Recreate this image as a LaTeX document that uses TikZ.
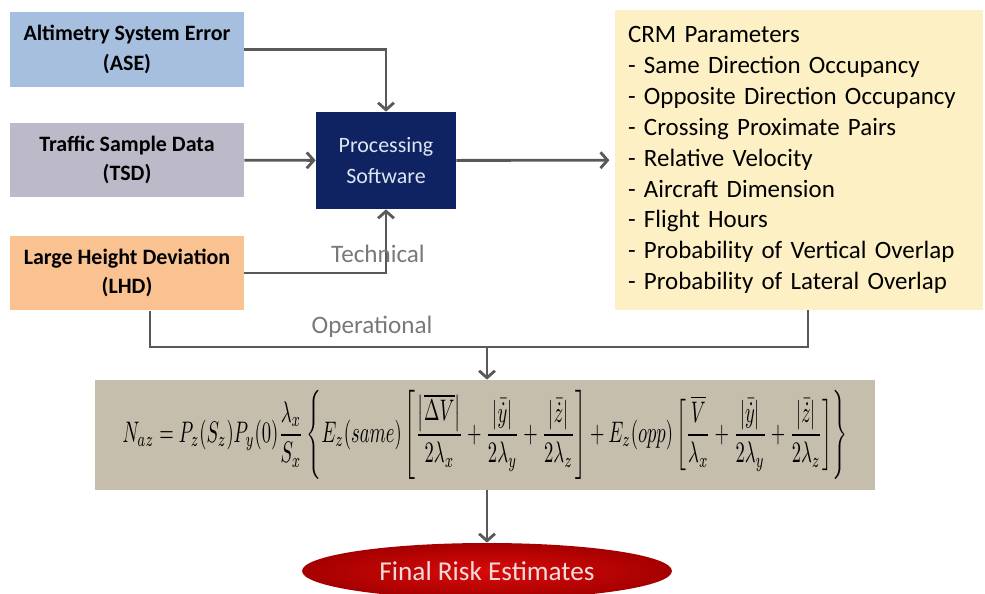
\documentclass[tikz,border=0pt]{standalone}
\usepackage{amsmath, amssymb}
\usepackage{fontspec}
\setmainfont{Carlito}
\usetikzlibrary{shapes.geometric,arrows.meta,positioning}
\usepackage{xcolor}
\definecolor{asecol}{RGB}{167,191,222}
\definecolor{tsdcol}{RGB}{188,186,201}
\definecolor{lhdcol}{RGB}{250,193,145}
\definecolor{proccol}{RGB}{15,34,98}
\definecolor{proctext}{RGB}{220,230,242}
\definecolor{crmcol}{RGB}{252,240,196}
\definecolor{eqcol}{RGB}{197,190,172}
\definecolor{arrowgray}{RGB}{89,89,89}
\definecolor{labelgray}{RGB}{120,120,120}
\definecolor{riskin}{RGB}{218,10,10}
\definecolor{riskout}{RGB}{165,0,0}
\definecolor{risktext}{RGB}{242,220,219}

\begin{document}
\begin{tikzpicture} [
      x = 0.02cm, y = -0.02cm,
      inner sep = 0,
      src/.style = { font = \fontsize{12.5}{17}\selectfont\bfseries, align = center, minimum width = 4.68cm, minimum height = 1.5cm },
      link/.style = { draw = arrowgray, line width = 1.6pt },
      flow/.style = { link, -{Straight Barb[length=4pt, width=9pt]} },
      lbl/.style = { text = labelgray, font = \fontsize{14.3}{16}\selectfont }
      ]
    
      \useasboundingbox (0,0) rectangle (985,594);
    
      \node [src, fill=asecol] (ase) at (127,49.5) {Altimetry System Error\\(ASE)};
      \node [src, fill=tsdcol] (tsd) at (127,160) {Traffic Sample Data\\(TSD)};
      \node [src, fill=lhdcol] (lhd) at (127,273) {Large Height Deviation\\(LHD)};
    
      \node [fill=proccol, text=proctext, align=center, font=\fontsize{12.5}{17.6}\selectfont,
             minimum width=2.8cm, minimum height=1.94cm] (proc) at (386,160.5) {Processing\\Software};
    
      \node [fill=crmcol, align=left, font=\fontsize{14.2}{17.6}\selectfont, text width=6.84cm,
             inner xsep=0.26cm, minimum height=6cm] (crm) at (799,160)
        {CRM Parameters\\- Same Direction Occupancy\\- Opposite Direction Occupancy\\- Crossing Proximate Pairs\\- Relative Velocity\\- Aircraft Dimension\\- Flight Hours\\- Probability of Vertical Overlap\\- Probability of Lateral Overlap};
    
      \node [fill=eqcol, minimum width=15.6cm, minimum height=2.2cm] (eqn) at (485,435)
        {\resizebox{14.5cm}{!}{\scalebox{1}[1.6]{$\displaystyle N_{az} = P_z(S_z)P_y(0)\frac{\lambda_x}{S_x}\left\{E_z(same)\left[\frac{\left|\overline{\Delta V}\right|}{2\lambda_x}+\frac{\left|\bar{\dot{y}}\right|}{2\lambda_y}+\frac{\left|\bar{\dot{z}}\right|}{2\lambda_z}\right]+E_z(opp)\left[\frac{\overline{V}}{\lambda_x}+\frac{\left|\bar{\dot{y}}\right|}{2\lambda_y}+\frac{\left|\bar{\dot{z}}\right|}{2\lambda_z}\right]\right\}$}}};
    
      \node [ellipse, minimum width=7.4cm, minimum height=1.12cm, inner color=riskin, outer color=riskout,
             text=risktext, font=\fontsize{15.5}{18}\selectfont] (risk) at (487,571) {Final Risk Estimates};
    
      \coordinate (opL) at (150,347);
      \coordinate (opM) at (487,347);
      \coordinate (opR) at (808,347);
    
      \draw [flow] (ase.east) -| (proc.north);
      \draw [flow] (tsd) -- (proc);
      \draw [flow] (lhd.east) -| (proc.south);
      \draw [flow, shorten >=3pt] (proc) -- (crm);
      \draw [link] (lhd.south -| opL) -- (opL) -- (opR) -- (crm.south -| opR);
      \draw [flow] (opM) -- (opM |- eqn.north);
      \draw [flow] (opM |- eqn.south) -- (risk.north);
    
      \node [lbl] (tech) at (378,254) {Technical};
      \node [lbl] (oper) at (372,327) {Operational};
    \end{tikzpicture}
\end{document}
